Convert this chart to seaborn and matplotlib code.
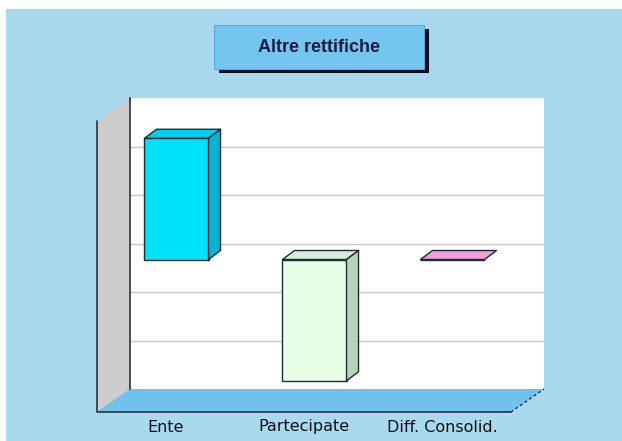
import matplotlib
matplotlib.use("Agg")
import matplotlib.pyplot as plt
import pandas as pd
import seaborn as sns
from matplotlib.patches import Polygon, Rectangle
from matplotlib.lines import Line2D

# --- data -------------------------------------------------------------
categories = ["Ente", "Partecipate", "Diff. Consolid."]
values = [2.5, -2.5, 0.0]
front_colors = ["#00e1fa", "#e6ffe6", "#f4a3dc"]
side_colors = ["#00b4d2", "#b9d2b9", "#d98cc4"]
top_colors = ["#00cdec", "#d6eed6", "#f0a0d8"]
title = "Altre rettifiche"
grid_levels = [-2, -1, 0, 1, 2]

# --- figure -----------------------------------------------------------
W, H = 622, 441
sns.set_theme(style="white")
plt.rcParams["font.family"] = ["DejaVu Sans"]

fig = plt.figure(figsize=(W / 100, H / 100), dpi=100, facecolor="white")


def px_rect(x0, y0, x1, y1):
    """Pixel box (origin top-left) -> figure-fraction [left, bottom, w, h]."""
    return [x0 / W, 1 - y1 / H, (x1 - x0) / W, (y1 - y0) / H]


# light blue panel behind everything
l, b, w, h = px_rect(6, 9, W, H)
fig.add_artist(Rectangle((l, b), w, h, transform=fig.transFigure,
                         facecolor="#a9d9ef", edgecolor="none", zorder=0))

# back wall of the 3D box = the axes
ax = fig.add_axes(px_rect(130, 98, 544, 389))
ax.set_facecolor("white")

df = pd.DataFrame({"categoria": categories, "valore": values})
sns.barplot(data=df, x="categoria", y="valore", hue="categoria",
            palette=front_colors, saturation=1, width=0.464, legend=False,
            edgecolor="#1c2a36", linewidth=1, ax=ax, zorder=3)

ax.set_xlim(-0.5, 2.5)
ax.set_ylim(-3, 3)
ax.set_yticks(grid_levels)
ax.set_yticklabels([])
ax.set_xticks([])
ax.set_xlabel("")
ax.set_ylabel("")
ax.yaxis.grid(True, color="#c9c9c9", linewidth=1)
ax.set_axisbelow(True)
ax.tick_params(axis="y", left=True, length=3, width=1, color="#eeeeee")
for side in ["top", "right", "bottom"]:
    ax.spines[side].set_visible(False)
ax.spines["left"].set_color("#2a2f3a")
ax.spines["left"].set_linewidth(1.2)

# depth geometry (data units per pixel: x 1/138, y 1/48.5)
px_x, px_y = 1 / 138, 1 / 48.5
box_dx, box_dy = -33 * px_x, -23 * px_y      # full box depth
bar_fx, bar_fy = -22.5 * px_x, -16 * px_y    # bar front plane
bar_dx, bar_dy = 12 * px_x, 9 * px_y         # bar depth

edge = "#1c2a36"

# left wall and floor
ax.add_patch(Polygon([(-0.5, -3), (-0.5, 3), (-0.5 + box_dx, 3 + box_dy),
                      (-0.5 + box_dx, -3 + box_dy)],
                     closed=True, facecolor="#cdcdcd", edgecolor="none",
                     clip_on=False, zorder=1))
ax.add_patch(Polygon([(-0.5, -3), (2.5, -3), (2.5 + box_dx, -3 + box_dy),
                      (-0.5 + box_dx, -3 + box_dy)],
                     closed=True, facecolor="#70c1eb", edgecolor="none",
                     clip_on=False, zorder=1))
ax.add_line(Line2D([-0.5 + box_dx, -0.5 + box_dx, 2.5 + box_dx],
                   [3 + box_dy, -3 + box_dy, -3 + box_dy],
                   color="#2a2f3a", linewidth=1.2, clip_on=False, zorder=2))
ax.add_line(Line2D([2.5 + box_dx, 2.5], [-3 + box_dy, -3],
                   color="#2a2f3a", linewidth=1, linestyle=(0, (2, 2)),
                   clip_on=False, zorder=2))

# extrude the bars
bars = sorted([p for c in ax.containers for p in c], key=lambda p: p.get_x())
for i, p in enumerate(bars):
    p.set_x(p.get_x() + bar_fx)
    p.set_y(p.get_y() + bar_fy)
    p.set_clip_on(False)
    x0, x1 = p.get_x(), p.get_x() + p.get_width()
    y0, y1 = sorted([p.get_y(), p.get_y() + p.get_height()])
    ax.add_patch(Polygon([(x0, y1), (x1, y1), (x1 + bar_dx, y1 + bar_dy),
                          (x0 + bar_dx, y1 + bar_dy)], closed=True,
                         facecolor=top_colors[i], edgecolor=edge, linewidth=1,
                         joinstyle="round", clip_on=False, zorder=4))
    if y1 > y0:
        ax.add_patch(Polygon([(x1, y0), (x1, y1), (x1 + bar_dx, y1 + bar_dy),
                              (x1 + bar_dx, y0 + bar_dy)], closed=True,
                             facecolor=side_colors[i], edgecolor=edge, linewidth=1,
                             joinstyle="round", clip_on=False, zorder=4))

# category labels under the front edge of the floor
for i, name in enumerate(categories):
    ax.text(i + box_dx, -3 + box_dy - 15 * px_y, name, ha="center", va="center",
            fontsize=11.5, color="#111111", clip_on=False)

# title box with drop shadow
sx, sy, sw, sh = px_rect(219, 29, 429, 73)
fig.add_artist(Rectangle((sx, sy), sw, sh, transform=fig.transFigure,
                         facecolor="#0c0c22", edgecolor="none", zorder=5))
tx, ty, tw, th = px_rect(214, 25, 424, 69)
fig.add_artist(Rectangle((tx, ty), tw, th, transform=fig.transFigure,
                         facecolor="#74c5ef", edgecolor="#58a9d8", linewidth=0.8,
                         zorder=6))
fig.text(319 / W, 1 - 48 / H, title, ha="center", va="center", fontsize=13,
         fontweight="bold", color="#1c1c3c",
         family=["Liberation Sans", "DejaVu Sans"], zorder=7)

fig.savefig("out.png", dpi=100, facecolor=fig.get_facecolor())
